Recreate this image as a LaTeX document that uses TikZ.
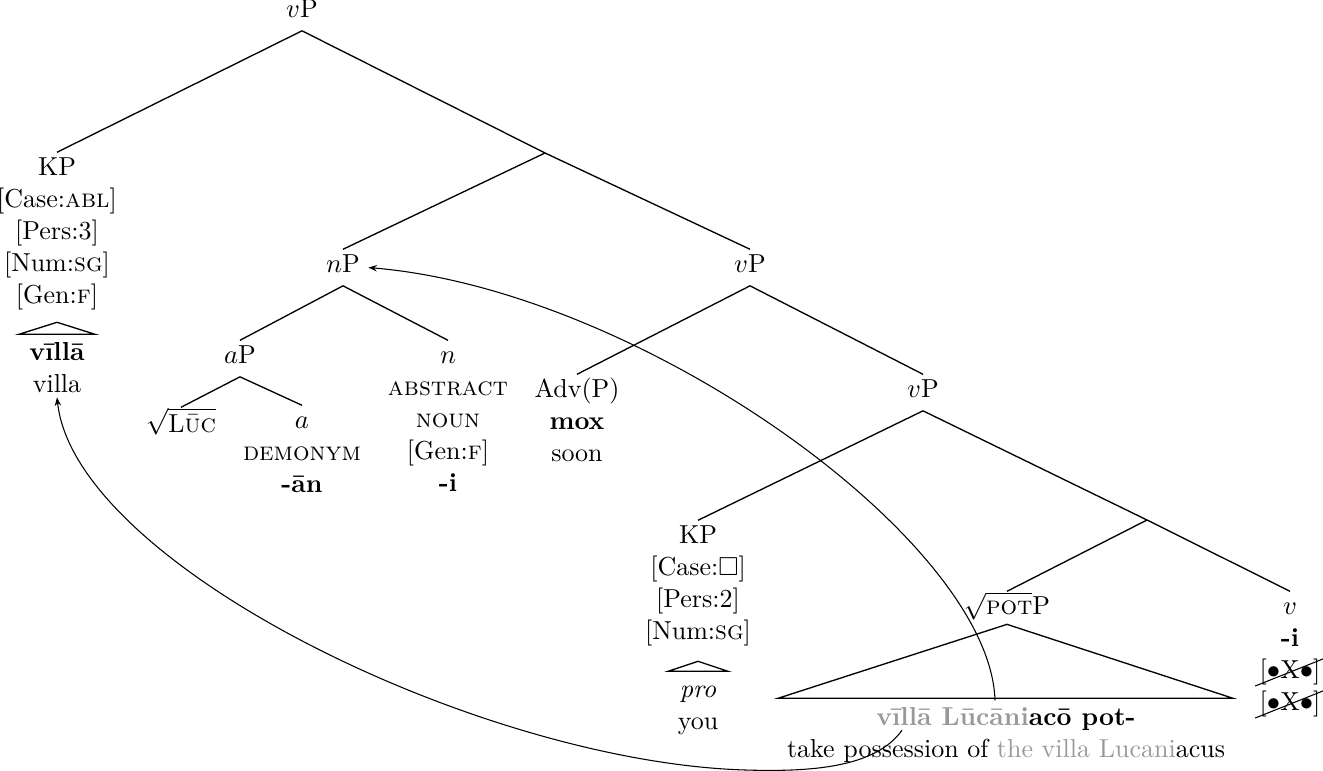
\documentclass[tikz,border=0pt]{standalone}
\usepackage{amssymb}
\usetikzlibrary{arrows.meta,calc}
\definecolor{lgray}{gray}{0.6}
\newcommand\fstrut{\rule[-3.5pt]{0pt}{12pt}}
\newcommand\pstrutA{\rule[-4.8pt]{0pt}{13.3pt}}
\tikzset{
  tn/.style={inner sep=0pt, anchor=north, align=center, font=\fontsize{9.75pt}{12pt}\selectfont},
  edge/.style={line width=0.5pt},
  tri/.style={line width=0.5pt},
  mv/.style={-{Stealth[length=3.2pt,width=2.4pt]}, line width=0.4pt},
  strike/.style={line width=0.4pt}
}
\begin{document}
\begin{tikzpicture}[x=0.375pt, y=-0.375pt]
\useasboundingbox (0,0) rectangle (1323,771);
% nodes
\node[tn] (root) at (302,-5.7) {\pstrutA$v$P};
\node[tn] (kp1) at (57,152.3) {\fstrut KP\\{[}Case:\textsc{abl}{]}\\{[}Pers:3{]}\\{[}Num:\textsc{sg}{]}\\{[}Gen:\textsc{f}{]}};
\node[tn] (leaf1) at (57,337.3) {\fstrut\textbf{vīllā}\\villa};
\coordinate (b1) at (545,153);
\node[tn] (np) at (343,249.3) {\pstrutA$n$P};
\node[tn] (vp2) at (750,249.3) {\pstrutA$v$P};
\node[tn] (ap) at (240,340.3) {\pstrutA$a$P};
\node[tn] (nn) at (448,340.3) {\fstrut$n$\\\textsc{abstract}\\\textsc{noun}\\{[}Gen:\textsc{f}{]}\\\textbf{-i}};
\node[tn] (luc) at (181,407.3) {\fstrut$\sqrt{\mbox{L\textsc{ūc}}}$};
\node[tn] (an) at (302,405.3) {\fstrut$a$\\\textsc{demonym}\\\textbf{-ān}};
\node[tn] (adv) at (577,374.3) {\fstrut Adv(P)\\\textbf{mox}\\soon};
\node[tn] (vp3) at (923,374.3) {\pstrutA$v$P};
\coordinate (b2) at (1147,520);
\node[tn] (kp2) at (698,520.3) {\fstrut KP\\{[}Case:$\square${]}\\{[}Pers:2{]}\\{[}Num:\textsc{sg}{]}};
\node[tn] (leaf2) at (698,674.3) {\fstrut\textit{pro}\\you};
\node[tn] (pot) at (1007,591.3) {\fstrut$\sqrt{\mbox{\textsc{pot}}}$P};
\node[tn] (leaf3) at (1006,702.3) {\fstrut\textbf{\textcolor{lgray}{vīllā Lūcāni}acō pot-}\\take possession of \textcolor{lgray}{the villa Lucani}acus};
\node[tn] (vv) at (1290,591.3) {\fstrut$v$\\\textbf{-i}};
\node[tn,anchor=base] (x1) at (1290,679) {{[}$\bullet$X$\bullet${]}};
\node[tn,anchor=base] (x2) at (1290,711) {{[}$\bullet$X$\bullet${]}};
% edges
\draw[edge] (root.south) -- (kp1.north);
\draw[edge] (root.south) -- (b1);
\draw[edge] (b1) -- (np.north);
\draw[edge] (b1) -- (vp2.north);
\draw[edge] (np.south) -- (ap.north);
\draw[edge] (np.south) -- (nn.north);
\draw[edge] (ap.south) -- (luc.north);
\draw[edge] (ap.south) -- (an.north);
\draw[edge] (vp2.south) -- (adv.north);
\draw[edge] (vp2.south) -- (vp3.north);
\draw[edge] (vp3.south) -- (kp2.north);
\draw[edge] (vp3.south) -- (b2);
\draw[edge] (b2) -- (pot.north);
\draw[edge] (b2) -- (vv.north);
% triangles
\draw[tri] ($(leaf1.north)+(-38,-3)$) -- ($(leaf1.north)+(0,-15)$) -- ($(leaf1.north)+(38,-3)$) -- cycle;
\draw[tri] ($(leaf2.north)+(-30,-3)$) -- ($(leaf2.north)+(0,-13)$) -- ($(leaf2.north)+(30,-3)$) -- cycle;
\draw[tri] ($(leaf3.north)+(-228,-4)$) -- (pot.south) -- ($(leaf3.north)+(227,-4)$) -- cycle;
% struck features
\draw[strike] ([xshift=-1.5pt]x1.south west) -- ([xshift=0.8pt]x1.north east);
\draw[strike] ([xshift=-1.5pt]x2.south west) -- ([xshift=0.8pt]x2.north east);
% movement arrows
\coordinate (m1) at ($(leaf3.north)+(-104,28)$);
\coordinate (m2) at ($(leaf3.north)+(-11,-2)$);
\draw[mv] (m1) .. controls (875,768) and (810,772) .. (745,770) .. controls (480,762) and (75,565) .. ([yshift=-1.5pt]leaf1.south);
\draw[mv] (m2) .. controls (990,540) and (640,290) .. ([xshift=3pt]np.east);
\end{tikzpicture}
\end{document}
